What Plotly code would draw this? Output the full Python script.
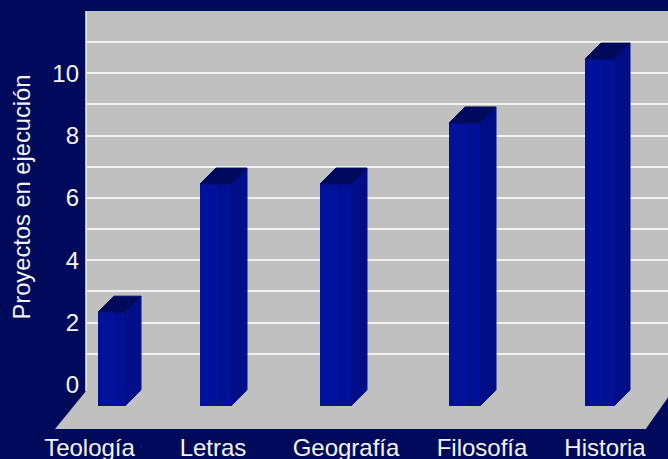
import plotly.graph_objects as go

categories = ["Teología", "Letras", "Geografía", "Filosofía", "Historia"]
values = [2.85, 6.96, 6.96, 8.92, 10.97]
y_title = "Proyectos en ejecución"
label_ticks = [0, 2, 4, 6, 8, 10]
grid_ticks = list(range(1, 13))

# axis layout (x axis runs in window pixels, bars are hand placed in the source)
W, H = 668, 459
wall_left, wall_top, floor_bottom = 86, 11, 429
unit = 31.17
zero_px = 385
y_top = (zero_px - wall_top) / unit
y_bottom = (zero_px - floor_bottom) / unit
front_left = [98, 200, 320, 449, 585]
front_width = [27, 31, 31, 31, 29]
label_x = [89.5, 213, 346, 482, 605]
depth_x = 16
depth_y = 16 / unit
front_base = -0.67

BG = "#000a5a"
GRAY = "#c0c0c0"
FRONT = "#00129c"
DITHER = "#000e8c"
SIDE = "#000f88"
TOP = "#000a5c"
TEXT = "#f4f4f8"

fig = go.Figure()

front_tops = [v - depth_y for v in values]
fig.add_bar(
    x=[l + w / 2 for l, w in zip(front_left, front_width)],
    y=[t - front_base for t in front_tops],
    base=[front_base] * len(values),
    width=front_width,
    marker=dict(color=FRONT, line=dict(width=0)),
    hoverinfo="skip",
)
fig.add_bar(
    x=[l + w * 0.72 for l, w in zip(front_left, front_width)],
    y=[t - front_base for t in front_tops],
    base=[front_base] * len(values),
    width=[w * 0.3 for w in front_width],
    marker=dict(color=FRONT, line=dict(width=0),
                pattern=dict(shape="+", fgcolor=DITHER, bgcolor=FRONT,
                             size=4, solidity=0.5, fillmode="replace")),
    hoverinfo="skip",
)
for l, w, t in zip(front_left, front_width, front_tops):
    r = l + w
    fig.add_scatter(
        x=[r, r + depth_x, r + depth_x, r, r],
        y=[front_base, front_base + depth_y, t + depth_y, t, front_base],
        mode="lines", fill="toself", fillcolor=SIDE,
        line=dict(color=SIDE, width=1), hoverinfo="skip",
    )
    fig.add_scatter(
        x=[l, r, r + depth_x, l + depth_x, l],
        y=[t, t, t + depth_y, t + depth_y, t],
        mode="lines", fill="toself", fillcolor=TOP,
        line=dict(color=TOP, width=1), hoverinfo="skip",
    )


def px(x):
    return x / W


def py(y):
    return 1 - y / H


shapes = [
    dict(type="path", xref="paper", yref="paper", layer="below",
         path=f"M {px(86)} {py(391)} L {px(55)} {py(429)} L {px(90)} {py(429)} L {px(90)} {py(391)} Z",
         fillcolor=GRAY, line=dict(width=0)),
    dict(type="path", xref="paper", yref="paper", layer="below",
         path=f"M {px(645)} {py(430)} L {px(669)} {py(430)} L {px(669)} {py(396)} Z",
         fillcolor=BG, line=dict(width=0)),
    dict(type="line", xref="paper", yref="paper", layer="above",
         x0=px(86), x1=px(86), y0=py(11), y1=py(391),
         line=dict(color="#f0f0f0", width=1.5)),
]

fig.update_layout(
    width=W, height=H,
    margin=dict(l=0, r=0, t=0, b=0, autoexpand=False),
    paper_bgcolor=BG, plot_bgcolor=GRAY,
    showlegend=False, barmode="overlay", shapes=shapes,
    font=dict(family="Liberation Sans, Arial, sans-serif", color=TEXT, size=22),
    xaxis=dict(
        automargin=False,
        domain=[px(wall_left), 1], range=[wall_left, W],
        tickmode="array", tickvals=label_x, ticktext=categories,
        showgrid=False, zeroline=False, showline=False,
        ticks="", ticklabelstandoff=2, tickfont=dict(size=24, color=TEXT),
    ),
    yaxis=dict(
        automargin=False,
        domain=[py(floor_bottom), py(wall_top)], range=[y_bottom, y_top],
        tickmode="array", tickvals=label_ticks, ticktext=[str(t) for t in label_ticks],
        showgrid=False, zeroline=False, showline=False,
        ticks="", ticklabelstandoff=6, tickfont=dict(size=24, color=TEXT),
        minor=dict(tickmode="array", tickvals=grid_ticks, showgrid=True,
                   gridcolor="#f2f2f2", gridwidth=1.5, ticks=""),
    ),
    annotations=[dict(
        text=y_title, xref="paper", yref="paper",
        x=px(21.5), y=py(197), xanchor="center", yanchor="middle",
        textangle=-90, showarrow=False, font=dict(size=23.7, color=TEXT),
    )],
)

fig.write_html(
    "out.html",
    config=dict(displayModeBar=False),
    post_script="document.body.style.margin='0';document.body.style.background='#000a5a';document.body.style.overflow='hidden';",
)
